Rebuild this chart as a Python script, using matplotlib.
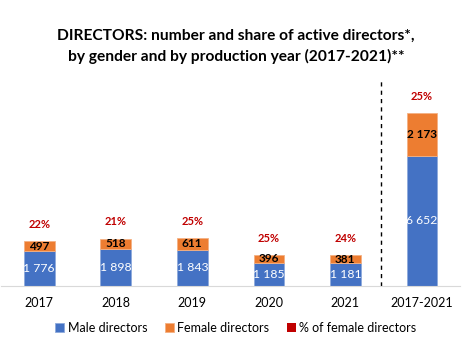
import numpy as np
import matplotlib.pyplot as plt

# data
years = ["2017", "2018", "2019", "2020", "2021", "2017-2021"]
male = [1776, 1898, 1843, 1185, 1181, 6652]
female = [497, 518, 611, 396, 381, 2173]
pct_female = ["22%", "21%", "25%", "25%", "24%", "25%"]

BLUE = "#4472C4"
ORANGE = "#ED7D31"
RED = "#C00000"

plt.rcParams["font.family"] = ["Lato", "DejaVu Sans"]

fig = plt.figure(figsize=(4.72, 3.51), dpi=100)
ax = fig.add_axes([0.002, 0.185, 0.973, 0.587])

x = np.arange(len(years))
male = np.array(male)
female = np.array(female)
total = male + female

ax.bar(x, male, width=0.4, color=BLUE, edgecolor="#8FAADC", linewidth=0.6, label="Male directors")
ax.bar(x, female, width=0.4, bottom=male, color=ORANGE, edgecolor="#F4B183", linewidth=0.6,
       label="Female directors")
# dummy handle for the percentage legend entry
ax.bar([0], [0], color=RED, label="% of female directors")

fmt = lambda v: f"{v:,}".replace(",", " ")
for i in range(len(years)):
    ax.text(x[i], male[i] / 2, fmt(male[i]), ha="center", va="center", color="white", fontsize=8.8)
    ax.text(x[i], male[i] + female[i] / 2, fmt(female[i]), ha="center", va="center",
            color="black", fontsize=8.5, fontweight="bold")
    ax.annotate(pct_female[i], (x[i], total[i]), xytext=(0, 12), textcoords="offset points",
                ha="center", va="center", color=RED, fontsize=8, fontweight="bold")

ax.axvline(4.47, ymin=0, ymax=1, color="black", linestyle=(0, (3, 3)), linewidth=1)

ax.set_xlim(-0.5, 5.5)
ax.set_ylim(0, 10500)
ax.set_xticks(x)
ax.set_xticklabels(years, fontsize=9)
ax.tick_params(axis="x", length=0, pad=8)
ax.set_yticks([])
for s in ["top", "right", "left"]:
    ax.spines[s].set_visible(False)
ax.spines["bottom"].set_color("#D9D9D9")

fig.text(0.5, 0.868, "DIRECTORS: number and share of active directors*,\nby gender and by production year (2017-2021)**",
         ha="center", va="center", fontsize=11.2, fontweight="bold", linespacing=1.5)

ax.legend(loc="center", bbox_to_anchor=(0.5, 0.065), bbox_transform=fig.transFigure, ncol=3,
          frameon=False, fontsize=9, handlelength=0.7, handleheight=0.7, handletextpad=0.3,
          columnspacing=1.4)

fig.savefig("out.png", dpi=100)
